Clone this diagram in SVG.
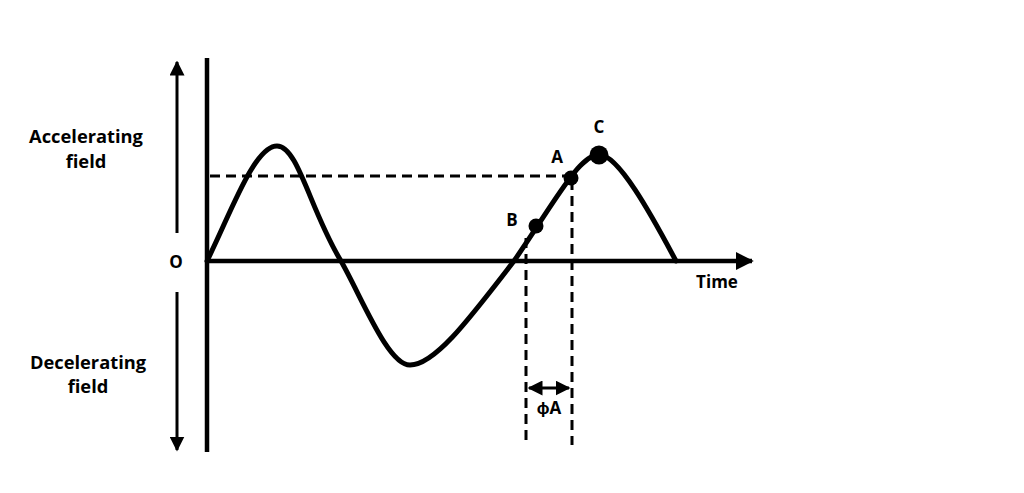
<svg xmlns="http://www.w3.org/2000/svg" width="1024" height="493" viewBox="0 0 1024 493">
<style>
text{font-family:"Open Sans","Liberation Sans",sans-serif;font-weight:bold;fill:#000;}
.lbl{font-size:18.3px;text-anchor:middle;}
.pt{font-size:17px;text-anchor:middle;}
.axis{stroke:#000;stroke-width:4.5;fill:none;}
.thin{stroke:#000;stroke-width:3;fill:none;}
.dash{stroke:#000;stroke-width:3;fill:none;stroke-dasharray:10 6;}
.curve{stroke:#000;stroke-width:5;fill:none;stroke-linejoin:round;stroke-linecap:round;}
</style>
<defs>
<marker id="ah" viewBox="0 0 10 10" refX="9" refY="5" markerWidth="5" markerHeight="5" markerUnits="strokeWidth" orient="auto-start-reverse">
<path d="M0,0 L10,5 L0,10 z" fill="#000"/>
</marker>
<marker id="ah2" viewBox="0 0 10 10" refX="9" refY="5" markerWidth="4" markerHeight="4" markerUnits="strokeWidth" orient="auto-start-reverse">
<path d="M0,0 L10,5 L0,10 z" fill="#000"/>
</marker>
</defs>
<rect width="1024" height="493" fill="#fff"/>
<g id="labels">
<text class="lbl" x="86" y="143">Accelerating</text>
<text class="lbl" x="86" y="168">field</text>
<text class="lbl" x="88" y="369">Decelerating</text>
<text class="lbl" x="88" y="393">field</text>
<text class="pt" x="176" y="268">O</text>
</g>
<g id="connectors">
<line class="thin" x1="177" y1="233" x2="177" y2="62" marker-end="url(#ah)"/>
<line class="thin" x1="177" y1="292" x2="177" y2="450" marker-end="url(#ah)"/>
<line class="axis" x1="207" y1="58" x2="207" y2="452"/>
<line class="axis" x1="205" y1="261" x2="752" y2="261" marker-end="url(#ah2)"/>
<line class="dash" x1="210" y1="176" x2="570" y2="176"/>
<line class="dash" x1="526" y1="238" x2="526" y2="445"/>
<line class="dash" x1="572" y1="180" x2="572" y2="445"/>
<line class="thin" x1="529" y1="388" x2="569" y2="388" marker-start="url(#ah)" marker-end="url(#ah)"/>
</g>
<g id="wave">
<path class="curve" d="M207,261 C230,215 254,146 277,146 C298,146 310,210 341,261 C362,298 388,365 410,365 C435,365 470,318 514,261 C545,216 565,181 580,166 C588,158 593,155 600,155 C618,155 650,212 676,261"/>
</g>
<g id="point-B"><circle cx="536" cy="226" r="7.5" fill="#000"/><text class="pt" x="512" y="226">B</text></g>
<g id="point-A"><circle cx="571" cy="178" r="7.5" fill="#000"/><text class="pt" x="557" y="163">A</text></g>
<g id="point-C"><circle cx="599" cy="155" r="9.5" fill="#000"/><text class="pt" x="599" y="133">C</text></g>
<g id="time-label"><text class="pt" x="717" y="288">Time</text></g>
<g id="phase-label"><text class="pt" x="549" y="414">ϕA</text></g>
</svg>
